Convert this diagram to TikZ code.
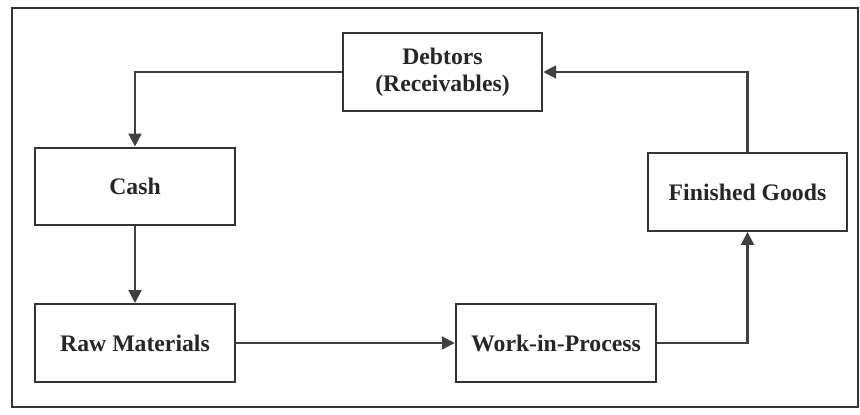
\documentclass[tikz,border=0pt]{standalone}
\usepackage{fontspec}
\setmainfont{Liberation Serif}
\usetikzlibrary{arrows.meta}

\begin{document}
\begin{tikzpicture}[font=\bfseries\fontsize{13.5}{15.5}\selectfont,
  line width=1.2pt, draw=black!80, text=black!85,
  box/.style={draw=black!80,line width=1.4pt,minimum width=40mm,minimum height=15.5mm,inner sep=2pt,align=center},
  arr/.style={draw=black!75,-{Triangle[length=2.6mm,width=2.6mm]}}]
  \useasboundingbox (0,0) rectangle (17.2,8.28);
  % Outer frame round the whole cycle.
  \node[draw=black!80,line width=1.2pt,minimum width=169.2mm,minimum height=79.8mm,inner sep=0pt] (frame) at (8.70,4.13) {};
  % The five stages of the cycle.
  \node[box,minimum width=39.8mm] (debtors) at (8.85,6.84) {Debtors\\(Receivables)};
  \node[box] (cash) at (2.70,4.55) {Cash};
  \node[box] (raw) at (2.70,1.42) {Raw Materials};
  \node[box] (wip) at (11.12,1.42) {Work-in-Process};
  \node[box,minimum width=39.8mm] (goods) at (14.95,4.44) {Finished Goods};
  % Connectors, round the loop.
  \draw[arr] (debtors.west) -| (cash.north);
  \draw[arr] (cash.south) -- (raw.north);
  \draw[arr] (raw.east) -- (wip.west);
  \draw[arr] (wip.east) -| (goods.south);
  \draw[arr] (goods.north) |- (debtors.east);
\end{tikzpicture}
\end{document}
